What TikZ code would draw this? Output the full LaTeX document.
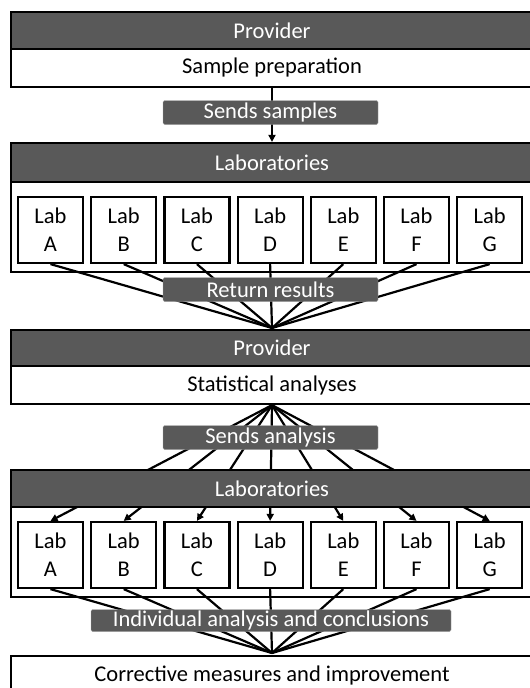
\documentclass[tikz,border=0pt]{standalone}
\usepackage{fontspec}
\setmainfont{Carlito}
\usepackage{xcolor}
\usepackage{tikz}
\usetikzlibrary{arrows.meta,positioning}

\definecolor{headgray}{HTML}{595959}

\begin{document}
\begin{tikzpicture}[
    x=1pt, y=-1pt,
    font=\fontsize{22.5}{28}\selectfont,
    header/.style={rectangle, draw, line width=2.2pt, fill=headgray, text=white,
                   minimum width=522pt, minimum height=#1, inner sep=0pt},
    panel/.style={rectangle, draw, line width=2.2pt, fill=white,
                  minimum width=522pt, minimum height=#1, inner sep=0pt},
    labbox/.style={rectangle, draw, line width=2.2pt, fill=white, align=center,
                   minimum width=65pt, minimum height=66pt, inner sep=0pt},
    tag/.style={rectangle, rounded corners=1.5pt, draw=gray!70, fill=headgray, text=white,
                minimum width=#1, minimum height=24pt, inner sep=0pt},
    link/.style={line width=2.2pt},
    send/.style={-{Triangle[length=7pt,width=7pt]}, line width=2.2pt}
]
\useasboundingbox (0,0) rectangle (530,688);
\clip (0,0) rectangle (530,688);

% Provider prepares the samples
\node[header=37pt] (prov1) at (272,30.5) {Provider};
\node[panel=38pt] (prep) at (272,68) {Sample preparation};

% Laboratories
\node[panel=90pt] (labs1) at (272,227) {};
\node[header=39pt] (labhead1) at (272,162.5) {Laboratories};
\foreach \l [count=\i] in {A,B,C,D,E,F,G}
    \node[labbox] (top\l) at ({50.5+73.2*(\i-1)},230) {Lab\\\l};

\draw[send] (prep) -- (labhead1);
\node[tag=215pt] (sendS) at (270.5,112.5) {Sends samples};

% Results go back to the provider
\coordinate (ret) at (272,328);
\foreach \l in {A,B,C,D,E,F,G}
    \draw[link] (top\l.south) -- (ret);
\node[tag=215pt] (retR) at (270.5,289.5) {Return results};

% Provider analyses the results
\node[header=36pt] (prov2) at (272,348) {Provider};
\node[panel=38pt] (stats) at (272,385) {Statistical analyses};

% Laboratories receive the analysis
\node[panel=90pt] (labs2) at (272,552) {};
\foreach \l [count=\i] in {A,B,C,D,E,F,G}
    \node[labbox] (bot\l) at ({50.5+73.2*(\i-1)},555) {Lab\\\l};
\foreach \l in {A,B,C,D,E,F,G}
    \draw[send] (stats.south) -- (bot\l.north);
\node[header=37pt] (labhead2) at (272,488.5) {Laboratories};
\node[tag=215pt] (sendA) at (270.5,437.5) {Sends analysis};

% Conclusions
\node[panel=45pt, anchor=north] (corr) at (272,655) {};
\node (corrtext) at (272,675) {Corrective measures and improvement};
\coordinate (conc) at (272,653);
\foreach \l in {A,B,C,D,E,F,G}
    \draw[link] (bot\l.south) -- (conc);
\node[tag=360pt, minimum height=22pt] (indiv) at (271,620.5) {Individual analysis and conclusions};

\end{tikzpicture}
\end{document}
